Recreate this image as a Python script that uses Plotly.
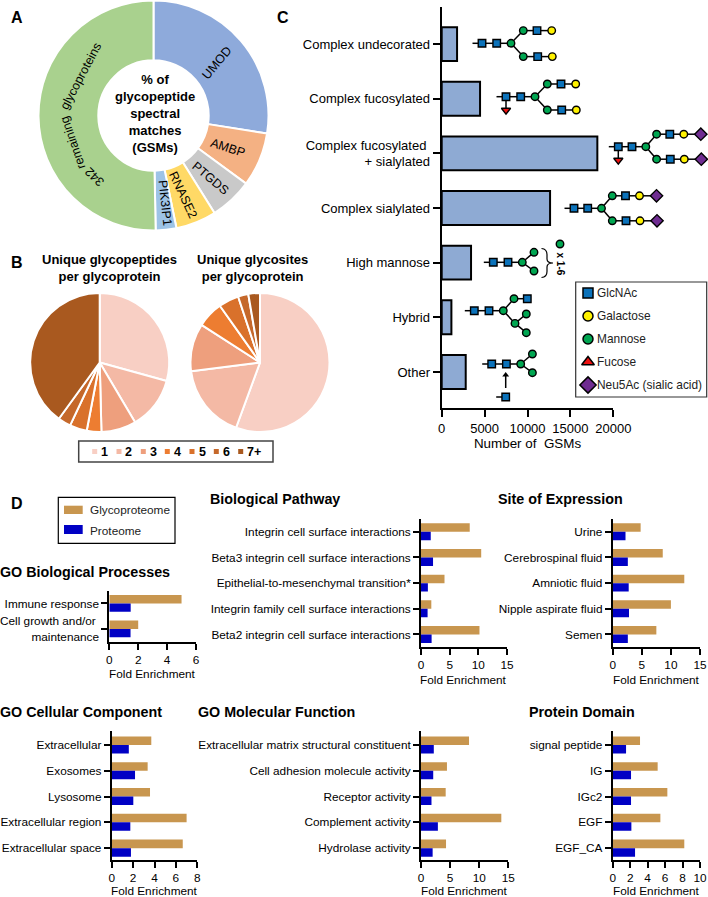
import plotly.graph_objects as go

W, H = 708, 897
FONT = "Liberation Sans"

# ---------- data ----------
donut_labels = ["UMOD", "AMBP", "PTGDS", "RNASE2", "PIK3IP1", "342 remaining glycoproteins"]
donut_values = [27.5, 7.6, 6.0, 5.7, 2.9, 50.3]
donut_colors = ["#8EAADB", "#F4B183", "#C9C9C9", "#FFD966", "#9DC3E6", "#A9D18E"]

pie_labels = ["1", "2", "3", "4", "5", "6", "7+"]
pie_colors = ["#F8CFC4", "#F4B9A5", "#EE9F7D", "#ED7D31", "#D9712B", "#C5682A", "#A9591F"]
peptide_values = [29.3, 12.2, 8.1, 3.4, 4.0, 3.0, 40.0]
glycosite_values = [55.6, 17.4, 11.1, 6.1, 4.7, 2.4, 2.7]

gsm_categories = ["Complex undecorated", "Complex fucosylated",
                  "Complex fucosylated&nbsp;<br>+ sialylated", "Complex sialylated",
                  "High mannose", "Hybrid", "Other"]
gsm_values = [1790, 4470, 18140, 12630, 3420, 1130, 2800]

bp_cats = ["Immune response", "Cell growth and/or&nbsp;<br>maintenance"]
bp_glyco = [5.0, 2.0]
bp_prot = [1.48, 1.47]

path_cats = ["Integrin cell surface interactions", "Beta3 integrin cell surface interactions",
             "Epithelial-to-mesenchymal transition*", "Integrin family cell surface interactions",
             "Beta2 integrin cell surface interactions"]
path_glyco = [8.5, 10.5, 4.1, 1.8, 10.2]
path_prot = [1.7, 2.1, 1.2, 1.15, 1.85]

site_cats = ["Urine", "Cerebrospinal fluid", "Amniotic fluid", "Nipple aspirate fluid", "Semen"]
site_glyco = [4.8, 8.6, 12.3, 10.0, 7.5]
site_prot = [2.2, 2.6, 2.75, 2.8, 2.6]

cc_cats = ["Extracellular", "Exosomes", "Lysosome", "Extracellular region", "Extracellular space"]
cc_glyco = [3.7, 3.36, 3.58, 7.0, 6.64]
cc_prot = [1.6, 2.18, 2.02, 1.74, 1.8]

mf_cats = ["Extracellular matrix structural constituent", "Cell adhesion molecule activity",
           "Receptor activity", "Complement activity", "Hydrolase activity"]
mf_glyco = [8.25, 4.46, 4.24, 13.8, 4.3]
mf_prot = [2.2, 2.1, 1.8, 2.9, 2.0]

dom_cats = ["signal peptide", "IG", "IGc2", "EGF", "EGF_CA"]
dom_glyco = [3.13, 5.15, 6.26, 5.46, 8.2]
dom_prot = [1.53, 2.1, 2.1, 2.14, 2.56]

TAN, BLUE = "#C8964F", "#0000C4"


def fx(x):
    return x / W


def fy(y):
    return 1 - y / H


fig = go.Figure()
annotations = []
shapes = []


def note(text, x, y, size=11.5, bold=False, angle=0, anchor="center", color="#000"):
    if anchor == "left":
        x -= 2
    annotations.append(dict(
        text=f"<b>{text}</b>" if bold else text, x=fx(x), y=fy(y), xref="paper", yref="paper",
        showarrow=False, xanchor=anchor, yanchor="middle", textangle=angle,
        font=dict(family=FONT, size=size, color=color)))


def box(x0, y0, x1, y1, fill="rgba(0,0,0,0)", line="#000", width=1.2):
    shapes.append(dict(type="rect", xref="paper", yref="paper", x0=fx(x0), x1=fx(x1),
                       y0=fy(y1), y1=fy(y0), fillcolor=fill,
                       line=dict(color=line, width=width)))


def pie_domain(cx, cy, r):
    return dict(x=[fx(cx - r), fx(cx + r)], y=[fy(cy + r), fy(cy - r)])


# ---------- Panel A ----------
fig.add_trace(go.Pie(labels=donut_labels, values=donut_values, sort=False, direction="clockwise",
                     rotation=0, hole=0.48, textinfo="none", showlegend=False,
                     marker=dict(colors=donut_colors, line=dict(color="white", width=2)),
                     domain=pie_domain(153.5, 115.5, 115)))
note("UMOD", 217, 63, 12.5, angle=-50)
note("AMBP", 228, 148, 12.5, angle=18)
note("PTGDS", 210, 178, 12.5, angle=40)
note("RNASE2", 183, 195, 12.5, angle=65)
note("PIK3IP1", 165, 203, 12.5, angle=84)
note("342", 95, 177, 12.5, angle=-136)
note("remaining", 73, 143, 12.5, angle=-109)
note("glycoproteins", 81, 76, 12.5, angle=-62)
note("% of<br>glycopeptide<br>spectral<br>matches<br>(GSMs)", 155, 113, 13, bold=True)
note("A", 17, 18, 16, bold=True)
note("B", 17, 262, 16, bold=True)
note("C", 283, 18, 16, bold=True)
note("D", 17, 504, 16, bold=True)

# ---------- Panel B ----------
for vals, cx in ((peptide_values, 99.7), (glycosite_values, 260)):
    fig.add_trace(go.Pie(labels=pie_labels, values=vals, sort=False, direction="clockwise",
                         rotation=0, textinfo="none", showlegend=False,
                         marker=dict(colors=pie_colors, line=dict(color="white", width=2)),
                         domain=pie_domain(cx, 362.5, 69.5)))
note("Unique glycopeptides<br>per glycoprotein", 109, 268, 13, bold=True)
note("Unique glycosites<br>per glycoprotein", 252.5, 268, 13, bold=True)
box(78.7, 441, 273, 462, line="#444", width=1.5)
swatch_x = [94.7, 119, 143.3, 167.3, 192, 216.3, 240.7]
label_x = [104.3, 128.3, 153, 177.3, 202.3, 226, 254]
for lab, col, sx, lx in zip(pie_labels, pie_colors, swatch_x, label_x):
    box(sx - 2.5, 449, sx + 2.5, 454, fill=col, line=col, width=0)
    note(lab, lx, 451.5, 12.5, bold=True)

# ---------- axes helper ----------
layout_axes = {}
axis_idx = [1]


def add_axes(x0, x1, ytop, ybot, yrange, xrange, dtick, font, title, standoff, ticklen=6,
             linew=1.8, categories=None, title_size=None):
    i = axis_idx[0]
    axis_idx[0] += 1
    xa, ya = f"xaxis{i}", f"yaxis{i}"
    layout_axes[xa] = dict(domain=[fx(x0), fx(x1)], anchor=f"y{i}", range=xrange, dtick=dtick,
                           tick0=0, ticks="outside", ticklen=ticklen, tickwidth=linew,
                           showline=True, linecolor="#000", linewidth=linew, showgrid=False,
                           zeroline=False, tickcolor="#000", tickangle=0, tickformat="d",
                           automargin=False,
                           tickfont=dict(family=FONT, size=font, color="#000"))
    if title:
        layout_axes[xa]["title"] = dict(text=title, standoff=standoff,
                                        font=dict(family=FONT, size=title_size or font, color="#000"))
    layout_axes[ya] = dict(domain=[fy(ybot), fy(ytop)], anchor=f"x{i}", range=yrange,
                           type="category", categoryorder="array", categoryarray=categories,
                           ticks="outside", ticklen=ticklen, tickwidth=linew, showline=True,
                           linecolor="#000", linewidth=linew, showgrid=False, zeroline=False,
                           tickcolor="#000", automargin=False,
                           tickfont=dict(family=FONT, size=font, color="#000"))
    return f"x{i}", f"y{i}"


# ---------- Panel C ----------
xa, ya = add_axes(441.7, 613.3, 7, 408, [6.66, -0.68], [0, 20000], 5000, 13,
                  "Number of  GSMs", 4, ticklen=7, linew=2.2, categories=gsm_categories,
                  title_size=13.4)
fig.add_trace(go.Bar(x=gsm_values, y=gsm_categories, orientation="h", xaxis=xa, yaxis=ya,
                     width=0.62, showlegend=False,
                     marker=dict(color="#8EAAD3", line=dict(color="#000", width=2))))


# ---------- Panel D ----------
def enrich(cats, g, p, x0, x1, ytop, ybot, xmax, dtick, title_y, top_pad=0.5):
    n = len(cats)
    xa, ya = add_axes(x0, x1, ytop, ybot, [n - 1 + (1 - top_pad), -top_pad], [0, xmax], dtick,
                      11.8, None, 0, ticklen=6, linew=1.8, categories=cats)
    for name, vals, col in (("Glycoproteome", g, TAN), ("Proteome", p, BLUE)):
        fig.add_trace(go.Bar(name=name, x=vals, y=cats, orientation="h", xaxis=xa, yaxis=ya,
                             marker=dict(color=col, line=dict(width=0)), showlegend=False,
                             offsetgroup=name))
    note("Fold Enrichment", (x0 + x1) / 2, title_y, 11.8)


enrich(bp_cats, bp_glyco, bp_prot, 109.3, 196, 590.7, 641.7, 6, 2, 674)
enrich(path_cats, path_glyco, path_prot, 421, 507, 519, 647.3, 15, 5, 679.5)
enrich(site_cats, site_glyco, site_prot, 612.7, 700, 519, 647.3, 15, 5, 679.5)
enrich(cc_cats, cc_glyco, cc_prot, 111.7, 197.3, 731, 860, 8, 2, 890.5, top_pad=0.54)
enrich(mf_cats, mf_glyco, mf_prot, 421, 508.3, 731, 860, 15, 5, 890.5, top_pad=0.54)
enrich(dom_cats, dom_glyco, dom_prot, 612.7, 700, 731, 860, 10, 2, 890.5, top_pad=0.54)

note("GO Biological Processes", 0, 571.7, 14.3, bold=True, anchor="left")
note("Biological Pathway", 210, 499, 14.3, bold=True, anchor="left")
note("Site of Expression", 560.7, 499, 14.3, bold=True)
note("GO Cellular Component", 0, 711.7, 14.3, bold=True, anchor="left")
note("GO Molecular Function", 197.7, 711.7, 14.3, bold=True, anchor="left")
note("Protein Domain", 582, 711.7, 14.3, bold=True)

box(58.3, 497.3, 175, 543.3)
box(64, 505.7, 82.7, 514, fill=TAN, line=TAN, width=0)
box(64, 525, 82.7, 534, fill=BLUE, line=BLUE, width=0)
note("Glycoproteome", 90, 510, 11.8, anchor="left", color="#222")
note("Proteome", 90, 531, 11.8, anchor="left", color="#222")

# ---------- glycan sketches (drawn on a pixel-sized overlay axis) ----------
OV = axis_idx[0]
layout_axes[f"xaxis{OV}"] = dict(domain=[0, 1], range=[0, W], visible=False, anchor=f"y{OV}",
                                 fixedrange=True, automargin=False)
layout_axes[f"yaxis{OV}"] = dict(domain=[0, 1], range=[H, 0], visible=False, anchor=f"x{OV}",
                                 fixedrange=True, automargin=False)
STYLE = {
    "G": dict(symbol="square", color="#0B72BA"),
    "Y": dict(symbol="circle", color="#FFF200"),
    "M": dict(symbol="circle", color="#00A651"),
    "F": dict(symbol="triangle-down", color="#EE1111"),
    "D": dict(symbol="diamond", color="#6F2C91"),
}
CORE = [("G", 0, 0, -1), ("G", 14.7, 0, 0), ("M", 29, 0, 1)]
ARMS = [("M", 41.3, -12.7, 2), ("G", 55, -12.7, 3), ("Y", 69.7, -12.7, 4),
        ("M", 41.3, 13.3, 2), ("G", 55.7, 13.3, 6), ("Y", 70.3, 13.3, 7)]
CORE_S = [("G", 0, 0, -1), ("G", 13.7, 0, 0), ("M", 27.5, 0, 1)]
ARMS_S = [("M", 38.3, -12.5, 2), ("G", 51.5, -12.5, 3), ("Y", 65.5, -12.5, 4),
          ("M", 38.3, 12.5, 2), ("G", 52, 12.5, 6), ("Y", 66, 12.5, 7)]
SIAL = [("D", 82.5, -12.5, 5), ("D", 83, 12.5, 8)]
FUC = [("F", 0, 13.5, 0)]
MAN3 = [("M", 40.7, -10, 2), ("M", 40.7, 8.7, 2)]
HYB = [("M", 39.7, -12, 2), ("G", 53, -12, 3), ("M", 40.7, 12.7, 2),
       ("M", 52, 3.3, 5), ("M", 52, 22, 5)]
glycans = [
    (482, 43.3, CORE + ARMS),
    (506, 96.7, CORE + ARMS + FUC),
    (618.3, 146.7, CORE_S + ARMS_S + SIAL + FUC),
    (574, 208.3, CORE_S + ARMS_S + SIAL),
    (493.3, 262.3, CORE + MAN3),
    (474.3, 310.7, CORE + HYB),
    (491.7, 364, CORE + MAN3),
    (505.7, 397, [("G", 0, 0, -1)]),
]
ex, ey = [], []
pts = {k: ([], []) for k in STYLE}
for x0, y0, nodes in glycans:
    for kind, dx, dy, parent in nodes:
        pts[kind][0].append(x0 + dx)
        pts[kind][1].append(y0 + dy)
        if parent < 0:
            ex += [x0 - 9.5, x0, None]
            ey += [y0, y0, None]
        else:
            ex += [x0 + nodes[parent][1], x0 + dx, None]
            ey += [y0 + nodes[parent][2], y0 + dy, None]
pts["M"][0].append(560)
pts["M"][1].append(244)
# arrow stem in "Other"
ex += [505.7, 505.7, None]
ey += [388, 376, None]
fig.add_trace(go.Scatter(x=ex, y=ey, mode="lines", line=dict(color="#000", width=1.5),
                         xaxis=f"x{OV}", yaxis=f"y{OV}", showlegend=False, hoverinfo="skip"))
fig.add_trace(go.Scatter(x=[505.7], y=[375], mode="markers", xaxis=f"x{OV}", yaxis=f"y{OV}",
                         marker=dict(symbol="triangle-up", size=6, color="#000"),
                         showlegend=False, hoverinfo="skip"))
SIZES = {"G": 7.5, "Y": 7.5, "M": 7.5, "F": 8, "D": 9.5}
for k, (xs, ys) in pts.items():
    fig.add_trace(go.Scatter(x=xs, y=ys, mode="markers", xaxis=f"x{OV}", yaxis=f"y{OV}",
                             showlegend=False, hoverinfo="skip",
                             marker=dict(symbol=STYLE[k]["symbol"], size=SIZES[k],
                                         color=STYLE[k]["color"],
                                         line=dict(color="#000", width=1.4))))
# bracket of the high-mannose structure
shapes.append(dict(type="path", xref=f"x{OV}", yref=f"y{OV}", line=dict(color="#000", width=1.2),
                   path="M 541.5,248.5 Q 547,249 547,254.5 L 547,259 Q 547,263 553,263 "
                        "Q 547,263 547,267 L 547,271.5 Q 547,277 541.5,277.5"))
note("x 1-6", 560, 263.5, 10, bold=True, angle=90)

# glycan key
box(575.7, 282, 706.7, 397, line="#333", width=1.2)
key_names = ["GlcNAc", "Galactose", "Mannose", "Fucose", "Neu5Ac (sialic acid)"]
key_kinds = [("square", "#0B72BA", 10), ("circle", "#FFF200", 10), ("circle", "#00A651", 10),
             ("triangle-up", "#EE1111", 11), ("diamond", "#6F2C91", 12.5)]
key_y = [293, 316, 339, 362, 385]
for name, (sym, col, size), y in zip(key_names, key_kinds, key_y):
    fig.add_trace(go.Scatter(x=[588], y=[y], mode="markers", xaxis=f"x{OV}", yaxis=f"y{OV}",
                             showlegend=False, hoverinfo="skip",
                             marker=dict(symbol=sym, size=size, color=col,
                                         line=dict(color="#000", width=1.5))))
    note(name, 597, y, 11.9, anchor="left", color="#222")

fig.update_layout(width=W, height=H, autosize=False, paper_bgcolor="white",
                  plot_bgcolor="rgba(0,0,0,0)", margin=dict(l=0, r=0, t=0, b=0),
                  barmode="group", bargap=0.34, bargroupgap=0, showlegend=False,
                  annotations=annotations, shapes=shapes,
                  font=dict(family=FONT, color="#000"), **layout_axes)
fig.write_html("out.html", config=dict(displayModeBar=False),
               post_script="document.body.style.margin='0';document.documentElement.style.overflow='hidden';")
